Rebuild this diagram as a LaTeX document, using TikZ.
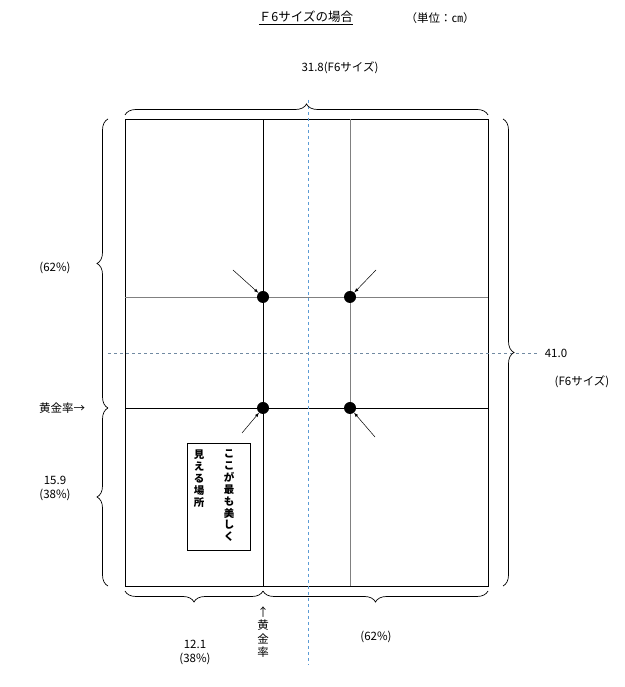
\documentclass[tikz,border=0pt]{standalone}
\usepackage{fontspec}
\setmainfont{Liberation Serif}
\newfontfamily\jfont{Noto Sans CJK JP}
\usetikzlibrary{decorations.pathreplacing}
\definecolor{dashBlue}{RGB}{91,155,213}
\tikzset{
  lbl/.style={inner sep=0pt, font=\jfont\fontsize{11.5}{14}\selectfont},
  vtext/.style={lbl, align=center, font=\jfont\fontsize{11.5}{13.5}\selectfont},
  brc/.style={decorate, decoration={brace, amplitude=11pt}, line width=0.7pt},
  dot/.style={circle, fill=black, inner sep=0pt, minimum size=12pt},
  pt/.style={-latex, line width=0.5pt}
}
\begin{document}
\begin{tikzpicture}[x=1pt,y=1pt]
\path[use as bounding box] (0,0) rectangle (624,687);
% frame and golden lines
\draw[line width=0.8pt] (125,101) rectangle (488,568);
\draw[line width=0.8pt] (263,101) -- (263,568);
\draw[gray, line width=0.6pt] (350,101) -- (350,568);
\draw[gray, line width=0.6pt] (125,390) -- (488,390);
\draw[line width=0.8pt] (125,279) -- (488,279);
% centre lines
\draw[dashBlue, dashed, line width=0.6pt] (308,587) -- (308,22);
\draw[gray!60!dashBlue, dashed, line width=0.6pt] (108,334) -- (538,334);
% points
\node[dot] (p1) at (263,390) {};
\node[dot] (p2) at (350,390) {};
\node[dot] (p3) at (263,279) {};
\node[dot] (p4) at (350,279) {};
\coordinate (a1) at (233,417);
\coordinate (a2) at (376,417);
\coordinate (a3) at (242,254);
\coordinate (a4) at (375,250);
\draw[pt] (a1) -- (p1);
\draw[pt] (a2) -- (p2);
\draw[pt] (a3) -- (p3);
\draw[pt] (a4) -- (p4);
% braces
\draw[brc] (125,572) -- (488,572);
\draw[brc] (108,279) -- (108,568);
\draw[brc] (108,101) -- (108,279);
\draw[brc] (503,568) -- (503,101);
\draw[brc] (263,96) -- (125,96);
\draw[brc] (488,96) -- (263,96);
\node[lbl] (w) at (340,619) {31.8(F6サイズ)};
\node[lbl] (u) at (55,419) {(62\%)};
\node[lbl, align=center] (l) at (55,199) {15.9\\(38\%)};
\node[lbl] (h) at (556,334) {41.0};
\node[lbl] (hs) at (582,305) {(F6サイズ)};
\node[lbl, align=center] (bl) at (195,35) {12.1\\(38\%)};
\node[lbl] (br) at (376,50) {(62\%)};
% golden ratio marks
\node[lbl] (gl) at (62,279) {黄金率→};
\node[vtext] (gb) at (263,55) {↑\\黄\\金\\率};
% note box
\draw[line width=0.6pt] (187,137) rectangle (250,244);
\node[vtext, font=\jfont\bfseries\fontsize{10.5}{11.8}\selectfont, anchor=north] (n1) at (229,237) {こ\\こ\\が\\最\\も\\美\\し\\く};
\node[vtext, font=\jfont\bfseries\fontsize{10.5}{11.8}\selectfont, anchor=north] (n2) at (199,237) {見\\え\\る\\場\\所};
% title
\node[lbl, font=\jfont\fontsize{12.5}{15}\selectfont] (t) at (306,669) {\underline{Ｆ6サイズの場合}};
\node[lbl] (unit) at (440,669) {（単位：㎝）};
\end{tikzpicture}
\end{document}
